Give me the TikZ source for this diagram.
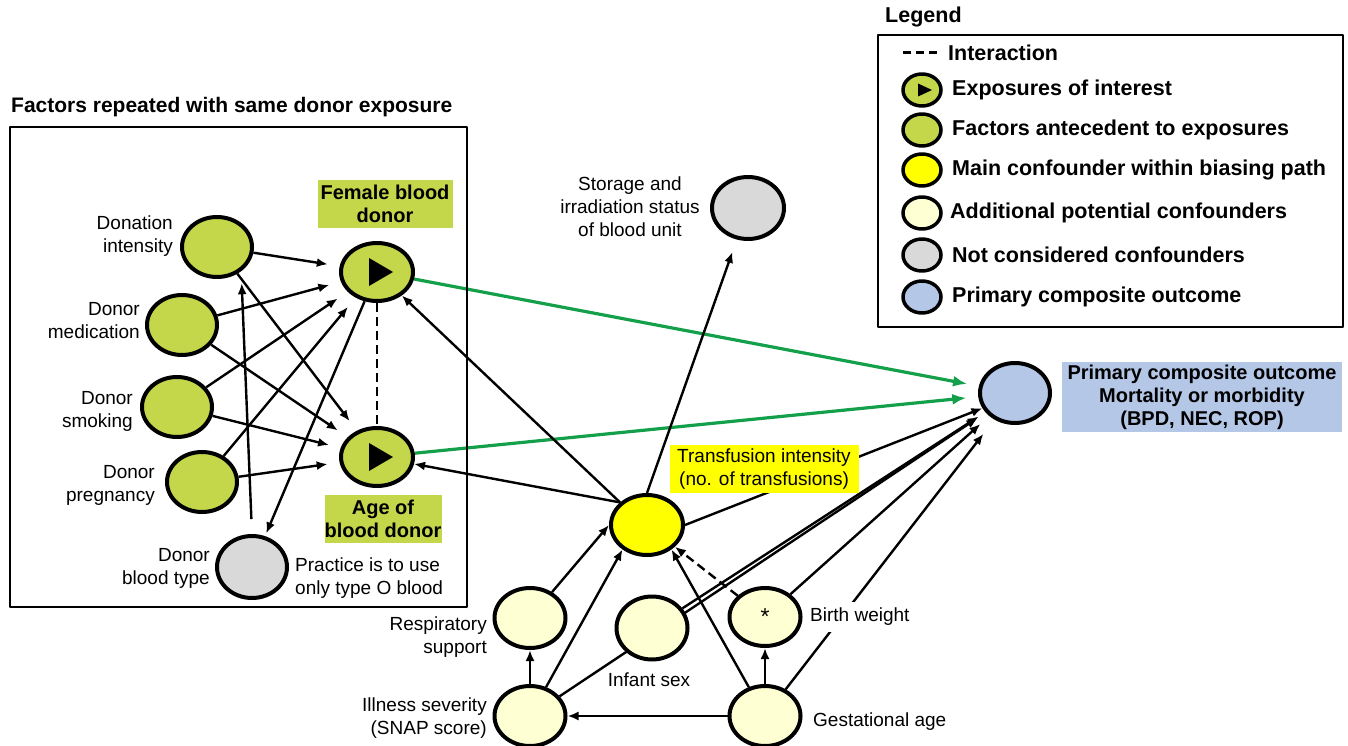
\documentclass[tikz,border=0pt]{standalone}
\usepackage{fontspec}
\setmainfont{Liberation Sans}
\usetikzlibrary{arrows.meta,shapes.geometric,backgrounds}
\definecolor{donorgreen}{RGB}{196,214,74}
\definecolor{mainyellow}{RGB}{255,255,0}
\definecolor{paleyellow}{RGB}{255,255,212}
\definecolor{notgray}{RGB}{217,217,217}
\definecolor{outblue}{RGB}{180,199,231}
\definecolor{pathgreen}{RGB}{20,160,75}
\begin{document}
\begin{tikzpicture}[x=1pt,y=-1pt,line cap=round,line join=round,
  every node/.style={font=\fontsize{19}{23}\selectfont,inner sep=2pt},
  circ/.style={ellipse,draw,line width=4pt,inner sep=0pt,minimum width=70pt,minimum height=60pt},
  fac/.style={circ,fill=donorgreen},
  expo/.style={circ,fill=donorgreen,minimum width=72pt,minimum height=58pt},
  mainc/.style={circ,fill=mainyellow,minimum width=72pt},
  addc/.style={circ,fill=paleyellow,minimum width=71pt,minimum height=60pt},
  notc/.style={circ,fill=notgray},
  outc/.style={circ,fill=outblue},
  legc/.style={circ,line width=3.5pt,minimum width=38pt,minimum height=32pt},
  tagbox/.style={align=center,inner sep=0pt,font=\bfseries\fontsize{20}{23}\selectfont},
  bld/.style={font=\bfseries\fontsize{21.5}{24}\selectfont,inner sep=0pt},
  arr/.style={line width=2.4pt,-{Latex[length=11pt,width=9pt]}},
  garr/.style={line width=3.2pt,draw=pathgreen,-{Latex[length=14pt,width=11pt]}},
  dsh/.style={line width=2.8pt,dash pattern=on 9pt off 5pt,line cap=butt}]
  \useasboundingbox (0,0) rectangle (1348,746);

  \node[bld,anchor=west,font=\bfseries\fontsize{21}{24}\selectfont] (title) at (11,107) {Factors repeated with same donor exposure};
  \draw[line width=2pt] (10,127) rectangle (467,607);

  \node[fac] (di) at (217,247) {};
  \node[fac] (dm) at (182,325) {};
  \node[fac] (ds) at (177,407) {};
  \node[fac] (dp) at (202,482) {};
  \node[notc,minimum height=62pt] (bt) at (252,567) {};
  \node[expo] (fem) at (377,272) {};
  \node[expo] (age) at (377,457) {};
  \foreach \e in {fem,age}
    \fill ([shift={(-8,-14)}]\e.center) -- ++(24,14) -- ++(-24,14) -- cycle;

  \node[anchor=east,align=right] (dil) at (175,236) {Donation\\intensity};
  \node[anchor=east,align=right] (dml) at (142,321) {Donor\\medication};
  \node[anchor=east,align=right] (dsl) at (135,411) {Donor\\smoking};
  \node[anchor=east,align=right] (dpl) at (157,485) {Donor\\pregnancy};
  \node[anchor=east,align=right] (btl) at (212,568) {Donor\\blood type};
  \node[anchor=west,align=left] (prl) at (293,578) {Practice is to use\\only type O blood};
  \node[tagbox,fill=donorgreen,minimum width=135pt,minimum height=48pt] (feml) at (385,204) {Female blood\\donor};
  \node[tagbox,fill=donorgreen,minimum width=117pt,minimum height=48pt] (agel) at (383,519) {Age of\\blood donor};

  \node[notc,minimum width=72pt,minimum height=62pt] (sto) at (748,208) {};
  \node[align=center] (stl) at (630,207) {Storage and\\irradiation status\\of blood unit};

  \node[mainc] (tr) at (647,525) {};
  \node[align=center,inner sep=0pt,fill=mainyellow,minimum width=189pt,minimum height=48pt] (trl) at (764,469) {Transfusion intensity\\(no. of transfusions)};

  \node[addc] (rs) at (530,618) {};
  \node[addc,minimum height=63pt] (is) at (652,628) {};
  \node[addc,minimum height=58pt,font=\fontsize{23}{23}\selectfont] (bw) at (765,617) {*};
  \node[addc] (ill) at (530,716) {};
  \node[addc] (ga) at (765,716) {};
  \node[anchor=east,align=right] (rsl) at (489,637) {Respiratory\\support};
  \node[anchor=east,align=right] (ilsl) at (489,718) {Illness severity\\(SNAP score)};
  \node (isl) at (649,680) {Infant sex};
  \node[anchor=west,fill=white,inner xsep=4pt,inner ysep=6pt] (bwl) at (806,617) {Birth weight};
  \node[anchor=west,inner xsep=4pt] (gal) at (809,722) {Gestational age};

  \node[outc] (out) at (1015,393) {};
  \node[tagbox,fill=outblue,minimum width=280pt,minimum height=70pt] (outl) at (1202,397) {Primary composite outcome\\Mortality or morbidity\\(BPD, NEC, ROP)};

  \node[bld,anchor=west] (legt) at (885,17) {Legend};
  \draw[line width=2pt] (878,35) rectangle (1343,327);
  \draw[line width=3pt,dash pattern=on 8pt off 5pt,line cap=butt] (903,53) -- (940,53);
  \node[bld,anchor=west] (l0) at (948,53) {Interaction};
  \node[legc,fill=donorgreen] (c1) at (922,90) {};
  \fill ([shift={(-4,-6.5)}]c1.center) -- ++(14,6.5) -- ++(-14,6.5) -- cycle;
  \node[legc,fill=donorgreen] (c2) at (922,130) {};
  \node[legc,fill=mainyellow] (c3) at (922,170) {};
  \node[legc,fill=paleyellow] (c4) at (922,213) {};
  \node[legc,fill=notgray] (c5) at (922,255) {};
  \node[legc,fill=outblue] (c6) at (922,297) {};
  \node[bld,anchor=west] (l1) at (952,90) {Exposures of interest};
  \node[bld,anchor=west] (l2) at (952,130) {Factors antecedent to exposures};
  \node[bld,anchor=west] (l3) at (952,170) {Main confounder within biasing path};
  \node[bld,anchor=west] (l4) at (950,213) {Additional potential confounders};
  \node[bld,anchor=west] (l5) at (952,255) {Not considered confounders};
  \node[bld,anchor=west] (l6) at (952,297) {Primary composite outcome};

  \begin{scope}[on background layer]
    \foreach \s in {di,dm,ds,dp}
      \foreach \t in {fem,age}
        \draw[arr,shorten >=12pt] (\s) -- (\t);
    \draw[arr,shorten >=3pt] (fem) -- (bt);
    \draw[arr,shorten <=15pt,shorten >=12pt] (bt.north) -- (di.-45);
    \draw[dsh] (fem) -- (age);
    \draw[garr,shorten >=12pt] (fem) -- (out);
    \draw[garr,shorten >=12pt] (age) -- (out);
    \draw[arr] (tr.140) -- (fem);
    \draw[arr] (tr.140) -- (age);
    \draw[arr,shorten >=13pt] (tr.north) -- (sto);
    \draw[arr] (tr.east) -- (out.205);
    \draw[arr,shorten >=10pt] (ill) -- (out);
    \draw[arr,shorten >=8pt] (is) -- (out);
    \draw[arr,shorten >=12pt] (bw) -- (out);
    \draw[arr,shorten >=18pt] (ga) -- (out);
    \draw[arr] (rs) -- (tr.west);
    \draw[arr] (ill) -- (tr.225);
    \draw[arr] (ill) -- (rs);
    \draw[arr] (ga) -- (ill);
    \draw[arr] (ga) -- (bw);
    \draw[arr] (ga) -- (tr.-45);
    \draw[arr,dash pattern=on 9pt off 5pt] (bw) -- (tr);
  \end{scope}
\end{tikzpicture}
\end{document}
